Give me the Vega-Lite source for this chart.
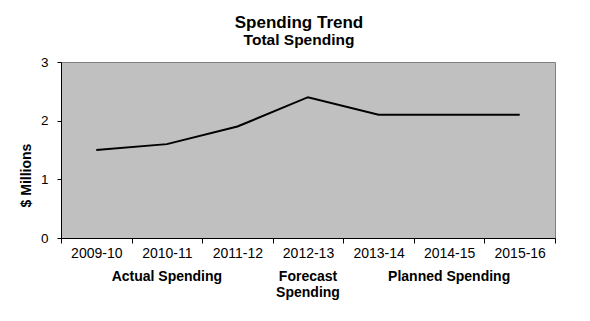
{
  "$schema": "https://vega.github.io/schema/vega-lite/v6.json",
  "width": 494,
  "height": 176,
  "autosize": {"type": "none"},
  "padding": {"left": 61, "top": 62, "right": 35, "bottom": 83},
  "background": "white",
  "title": {
    "text": "Spending Trend",
    "subtitle": "Total Spending",
    "anchor": "middle",
    "dx": -9,
    "offset": 6,
    "font": "Liberation Sans",
    "fontSize": 17,
    "fontWeight": "bold",
    "color": "black",
    "subtitleFont": "Liberation Sans",
    "subtitleFontSize": 15.5,
    "subtitleFontWeight": "bold",
    "subtitleColor": "black",
    "subtitlePadding": 1
  },
  "data": {
    "values": [
      {"year": "2009-10", "spending": 1.5},
      {"year": "2010-11", "spending": 1.6},
      {"year": "2011-12", "spending": 1.9},
      {"year": "2012-13", "spending": 2.4},
      {"year": "2013-14", "spending": 2.1},
      {"year": "2014-15", "spending": 2.1},
      {"year": "2015-16", "spending": 2.1}
    ]
  },
  "layer": [
    {
      "mark": {"type": "line", "color": "black", "strokeWidth": 2},
      "encoding": {
        "x": {
          "field": "year",
          "type": "ordinal",
          "sort": null,
          "scale": {"paddingInner": 0, "paddingOuter": 0},
          "axis": {
            "orient": "bottom",
            "title": null,
            "labelAngle": 0,
            "tickBand": "extent",
            "tickSize": 5,
            "tickColor": "black",
            "domainColor": "black",
            "labelPadding": 3,
            "labelFont": "Liberation Sans",
            "labelFontSize": 14,
            "labelColor": "black",
            "grid": false
          }
        },
        "y": {
          "field": "spending",
          "type": "quantitative",
          "scale": {"domain": [0, 3]},
          "axis": {
            "title": "$ Millions",
            "values": [0, 1, 2, 3],
            "format": "d",
            "grid": false,
            "tickSize": 4,
            "tickColor": "black",
            "domainColor": "black",
            "labelPadding": 9,
            "labelFont": "Liberation Sans",
            "labelFontSize": 13.5,
            "labelColor": "black",
            "titleFont": "Liberation Sans",
            "titleFontSize": 14,
            "titleFontWeight": "bold",
            "titleColor": "black",
            "titleX": -28,
            "titleY": 113
          }
        }
      }
    },
    {
      "mark": {"type": "point", "opacity": 0},
      "encoding": {
        "x": {
          "field": "year",
          "type": "ordinal",
          "sort": null,
          "axis": {
            "orient": "bottom",
            "title": null,
            "domain": false,
            "ticks": false,
            "offset": 31,
            "labelAngle": 0,
            "labelDx": -14,
            "labelPadding": 0,
            "labelBaseline": "top",
            "labelLineHeight": 16,
            "labelFont": "Liberation Sans",
            "labelFontSize": 14,
            "labelFontWeight": "bold",
            "labelColor": "black",
            "labelExpr": "datum.value == '2010-11' ? 'Actual Spending' : datum.value == '2012-13' ? ['Forecast', 'Spending'] : datum.value == '2014-15' ? 'Planned Spending' : ''",
            "grid": false
          }
        },
        "y": {"field": "spending", "type": "quantitative"}
      }
    }
  ],
  "resolve": {"axis": {"x": "independent", "y": "shared"}},
  "config": {
    "view": {"fill": "#C0C0C0", "stroke": "#808080", "strokeWidth": 1}
  }
}
